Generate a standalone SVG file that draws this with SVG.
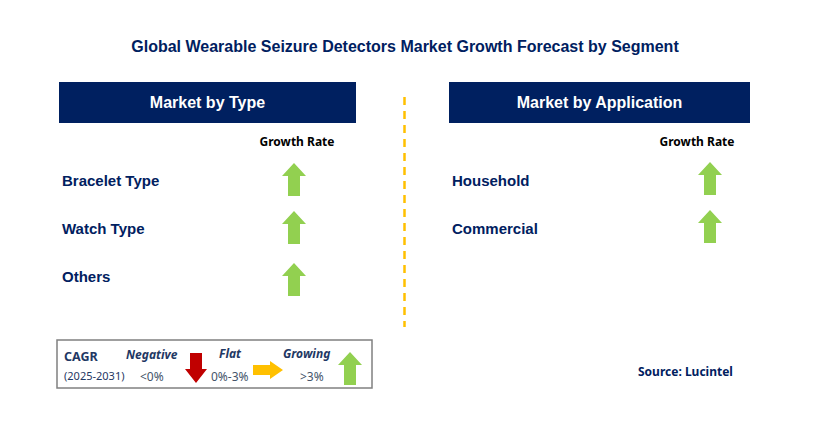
<svg xmlns="http://www.w3.org/2000/svg" width="814" height="435" viewBox="0 0 814 435">
<style>
.title{font-family:"Liberation Sans",Arial,sans-serif;font-weight:bold;font-size:16px;fill:#002060}
.hdr{font-family:"Liberation Sans",Arial,sans-serif;font-weight:bold;font-size:16px;fill:#ffffff}
.hbox{fill:#002060}
.gr{font-family:"Noto Sans",sans-serif;font-weight:bold;font-size:12px;fill:#000000}
.cat{font-family:"Liberation Sans",Arial,sans-serif;font-weight:bold;font-size:15px;fill:#002060}
.src{font-family:"Noto Sans",sans-serif;font-weight:bold;font-size:12px;fill:#002060}
.lg{font-family:"Noto Sans",sans-serif;font-size:11px;fill:#1f3864}
.lgb{font-family:"Noto Sans",sans-serif;font-weight:bold;font-size:12.5px;fill:#1f3864}
.lgi{font-family:"Noto Sans",sans-serif;font-weight:bold;font-style:italic;font-size:12px;fill:#1f3864}
.lv{font-family:"Noto Sans",sans-serif;font-size:12px;fill:#44546a}
.up{fill:#92d050}
</style>
<defs>
<path id="uparrow" d="M0,0 L12,13 L6,13 L6,33 L-6,33 L-6,13 L-12,13 Z"/>
</defs>
<rect width="814" height="435" fill="#ffffff"/>
<text class="title" x="405" y="52" text-anchor="middle">Global Wearable Seizure Detectors Market Growth Forecast by Segment</text>

<g id="header-type">
<rect class="hbox" x="59" y="82" width="297" height="41"/>
<text class="hdr" x="207.5" y="108" text-anchor="middle">Market by Type</text>
</g>
<g id="header-application">
<rect class="hbox" x="449" y="82" width="301" height="41"/>
<text class="hdr" x="599.5" y="108" text-anchor="middle">Market by Application</text>
</g>

<g id="connectors">
<line x1="404.5" y1="97" x2="404.5" y2="327" stroke="#ffc000" stroke-width="2.5" stroke-dasharray="8 6"/>
</g>

<g id="growth-rate-type"><text class="gr" x="297" y="146" text-anchor="middle">Growth Rate</text></g>
<g id="growth-rate-app"><text class="gr" x="697" y="146" text-anchor="middle">Growth Rate</text></g>

<g id="bracelet-type">
<text class="cat" x="62" y="186">Bracelet Type</text>
<use href="#uparrow" class="up" x="294" y="163"/>
</g>
<g id="watch-type">
<text class="cat" x="62" y="234">Watch Type</text>
<use href="#uparrow" class="up" x="294" y="211"/>
</g>
<g id="others">
<text class="cat" x="62" y="282">Others</text>
<use href="#uparrow" class="up" x="294" y="263"/>
</g>
<g id="household">
<text class="cat" x="452" y="186">Household</text>
<use href="#uparrow" class="up" x="710" y="162"/>
</g>
<g id="commercial">
<text class="cat" x="452" y="234">Commercial</text>
<use href="#uparrow" class="up" x="710" y="210"/>
</g>

<g id="legend">
<rect x="57" y="340" width="315" height="48" fill="#ffffff" stroke="#808080" stroke-width="1.5"/>
<text class="lgb" x="64" y="361">CAGR</text>
<text class="lg" x="64" y="380">(2025-2031)</text>
<text class="lgi" x="126" y="359">Negative</text>
<text class="lv" x="140" y="381">&lt;0%</text>
<path d="M190,353 L202,353 L202,369 L207,369 L196,383 L185,369 L190,369 Z" fill="#c00000"/>
<text class="lgi" x="219" y="358">Flat</text>
<text class="lv" x="211" y="381">0%-3%</text>
<path d="M253,365 L270,365 L270,361 L283,370 L270,379 L270,375 L253,375 Z" fill="#ffc000"/>
<text class="lgi" x="283" y="358">Growing</text>
<text class="lv" x="300" y="381">&gt;3%</text>
<use href="#uparrow" class="up" x="350" y="352"/>
</g>

<g id="source"><text class="src" x="638" y="376">Source: Lucintel</text></g>
</svg>
